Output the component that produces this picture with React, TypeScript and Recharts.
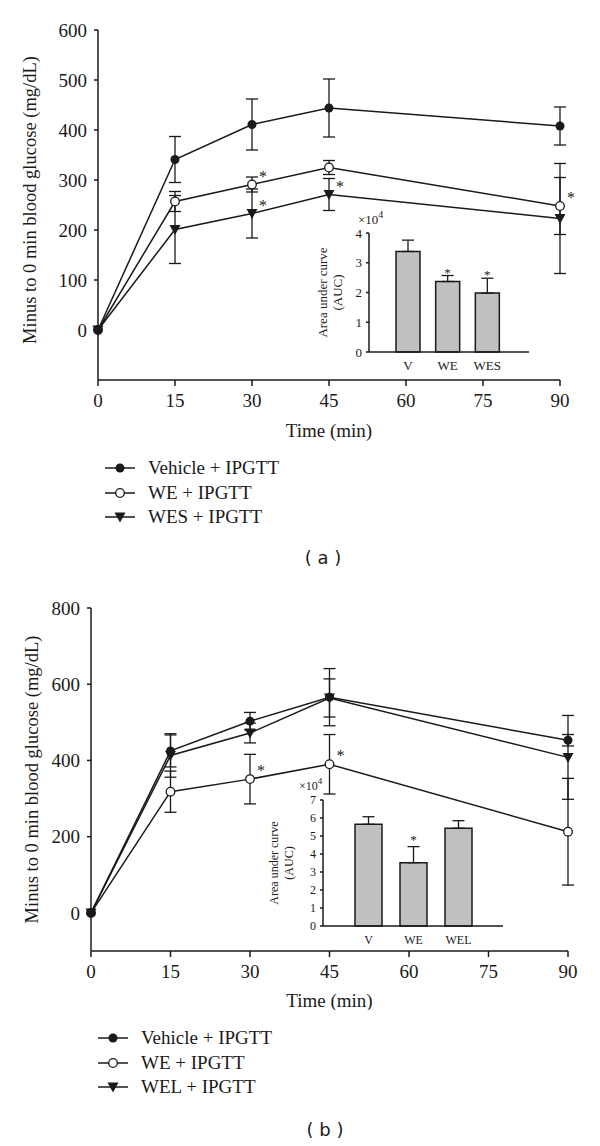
import {
  Bar,
  BarChart,
  ErrorBar,
  LabelList,
  Line,
  LineChart,
  ReferenceDot,
  XAxis,
  YAxis,
} from "recharts";

const SERIF = '"Liberation Serif", "Times New Roman", serif';
const SANS = '"DejaVu Sans", Verdana, sans-serif';
const INK = "#1a1a1a";
const BAR_FILL = "#c0c0c0";

const times = [0, 15, 30, 45, 90];
const timeTicks = [0, 15, 30, 45, 60, 75, 90];

// panel (a)
const seriesA = ["Vehicle + IPGTT", "WE + IPGTT", "WES + IPGTT"];
const vehicleA = [0, 341, 411, 444, 408];
const vehicleAErr = [0, 46, 51, 58, 38];
const weA = [0, 257, 291, 325, 248];
const weAErr = [0, 20, 15, 14, 57];
const wesA = [0, 201, 233, 271, 223];
const wesAErr = [0, 68, 49, 32, 110];
const weAStar = ["", "", "*", "", "*"];
const wesAStar = ["", "", "*", "*", ""];
const yTicksA = [0, 100, 200, 300, 400, 500, 600];

const aucCatsA = ["V", "WE", "WES"];
const aucA = [3.38, 2.37, 1.98];
const aucAErr = [0.38, 0.2, 0.5];
const aucAStar = ["", "*", "*"];
const aucTicksA = [0, 1, 2, 3, 4];

// panel (b)
const seriesB = ["Vehicle + IPGTT", "WE + IPGTT", "WEL + IPGTT"];
const vehicleB = [0, 425, 503, 566, 453];
const vehicleBErr = [0, 42, 23, 75, 15];
const weB = [0, 318, 351, 390, 213];
const weBErr = [0, 54, 65, 78, 140];
const welB = [0, 413, 472, 564, 408];
const welBErr = [0, 57, 26, 50, 110];
const weBStar = ["", "", "*", "*", ""];
const welBStar = ["", "", "", "", ""];
const yTicksB = [0, 200, 400, 600, 800];

const aucCatsB = ["V", "WE", "WEL"];
const aucB = [5.65, 3.52, 5.43];
const aucBErr = [0.42, 0.89, 0.42];
const aucBStar = ["", "*", ""];
const aucTicksB = [0, 1, 2, 3, 4, 5, 6, 7];

const buildRows = (
  veh: number[], vehErr: number[], we: number[], weErr: number[],
  third: number[], thirdErr: number[], weStar: string[], thirdStar: string[],
) =>
  times.map((t, i) => ({
    t,
    veh: veh[i], vehErr: vehErr[i],
    we: we[i], weErr: weErr[i],
    third: third[i], thirdErr: thirdErr[i],
    weStar: weStar[i], thirdStar: thirdStar[i],
  }));

const rowsA = buildRows(vehicleA, vehicleAErr, weA, weAErr, wesA, wesAErr, weAStar, wesAStar);
const rowsB = buildRows(vehicleB, vehicleBErr, weB, weBErr, welB, welBErr, weBStar, welBStar);

// markers
const filledDot = (p: any) =>
  p.cx == null ? null : <circle key={p.index} cx={p.cx} cy={p.cy} r={4.5} fill={INK} />;
const openDot = (p: any) =>
  p.cx == null ? null : (
    <circle key={p.index} cx={p.cx} cy={p.cy} r={4.3} fill="#fff" stroke={INK} strokeWidth={1.3} />
  );
const triDot = (p: any) =>
  p.cx == null ? null : (
    <path
      key={p.index}
      d={`M${p.cx - 5.5},${p.cy - 4.5}L${p.cx + 5.5},${p.cy - 4.5}L${p.cx},${p.cy + 5.5}Z`}
      fill={INK}
    />
  );

const lineStar = (p: any) => {
  if (!p.value) return null;
  const vb = p.viewBox ?? {};
  const x = vb.x ?? p.x;
  const y = vb.y ?? p.y;
  return (
    <text x={x + 11} y={y - 3} textAnchor="middle" fontSize={16} fontFamily={SERIF} fill={INK}>
      *
    </text>
  );
};

const BarStar = (p: any) => {
  const vb = p.viewBox ?? {};
  const x = (vb.x ?? 0) + (vb.width ?? 0) / 2;
  const y = vb.y ?? 0;
  return (
    <text x={x} y={y + p.lift} textAnchor="middle" fontSize={13} fontFamily={SERIF} fill={INK}>
      *
    </text>
  );
};

const XTitle = (p: any) => {
  const vb = p.viewBox;
  return (
    <text
      x={vb.x + vb.width / 2}
      y={vb.y + p.offY}
      textAnchor="middle"
      dominantBaseline="central"
      fontSize={19}
      fontFamily={SERIF}
      fill={INK}
    >
      {p.text}
    </text>
  );
};

const YTitle = (p: any) => {
  const vb = p.viewBox;
  const cx = vb.x + p.offX;
  const cy = vb.y + vb.height / 2 + (p.offY ?? 0);
  return (
    <text
      x={cx}
      y={cy}
      transform={`rotate(-90 ${cx} ${cy})`}
      textAnchor="middle"
      dominantBaseline="central"
      fontSize={18.5}
      fontFamily={SERIF}
      fill={INK}
    >
      {p.text}
    </text>
  );
};

const InsetTitle = (p: any) => {
  const vb = p.viewBox;
  const right = vb.x + vb.width;
  const cy = vb.y + vb.height / 2;
  const l1 = right + p.line1;
  const l2 = right + p.line2;
  return (
    <g fontFamily={SERIF} fill={INK}>
      <text x={right + p.expX} y={vb.y + p.expY} fontSize={p.fs}>
        ×10
        <tspan dy={-6} fontSize={p.fs - 3}>
          4
        </tspan>
      </text>
      <text x={l1} y={cy} transform={`rotate(-90 ${l1} ${cy})`} textAnchor="middle" dominantBaseline="central" fontSize={p.fs}>
        Area under curve
      </text>
      <text x={l2} y={cy} transform={`rotate(-90 ${l2} ${cy})`} textAnchor="middle" dominantBaseline="central" fontSize={p.fs}>
        (AUC)
      </text>
    </g>
  );
};

function GlucosePanel(props: {
  rows: any[];
  names: string[];
  top: number;
  height: number;
  margin: { top: number; right: number; bottom: number; left: number };
  yDomain: [number, number];
  yTicks: number[];
  titleY: number;
  yTitle: { offX: number; offY: number };
}) {
  const { rows, names, top, height, margin, yDomain, yTicks, titleY, yTitle } = props;
  const tickStyle = { fontSize: 19, fill: INK, fontFamily: SERIF };
  const axisStyle = { stroke: INK, strokeWidth: 1.5 };
  return (
    <div style={{ position: "absolute", left: 0, top, width: 600, height }}>
      <LineChart width={600} height={height} data={rows} margin={margin}>
        <XAxis
          dataKey="t"
          type="number"
          domain={[0, 90]}
          ticks={timeTicks}
          interval={0}
          height={50}
          tickSize={6}
          tickMargin={8}
          axisLine={axisStyle}
          tickLine={axisStyle}
          tick={tickStyle}
          label={<XTitle text="Time (min)" offY={titleY} />}
        />
        <YAxis
          type="number"
          domain={yDomain}
          ticks={yTicks}
          interval={0}
          width={60}
          tickSize={4}
          tickMargin={7}
          axisLine={axisStyle}
          tickLine={axisStyle}
          tick={tickStyle}
          label={<YTitle text="Minus to 0 min blood glucose (mg/dL)" {...yTitle} />}
        />
        <Line
          dataKey="third"
          name={names[2]}
          type="linear"
          stroke={INK}
          strokeWidth={1.5}
          dot={triDot}
          activeDot={false}
          isAnimationActive={false}
        >
          <ErrorBar dataKey="thirdErr" width={6} strokeWidth={1.3} stroke={INK} direction="y" isAnimationActive={false} />
          <LabelList dataKey="thirdStar" content={lineStar} />
        </Line>
        <Line
          dataKey="we"
          name={names[1]}
          type="linear"
          stroke={INK}
          strokeWidth={1.5}
          dot={openDot}
          activeDot={false}
          isAnimationActive={false}
        >
          <ErrorBar dataKey="weErr" width={6} strokeWidth={1.3} stroke={INK} direction="y" isAnimationActive={false} />
          <LabelList dataKey="weStar" content={lineStar} />
        </Line>
        <Line
          dataKey="veh"
          name={names[0]}
          type="linear"
          stroke={INK}
          strokeWidth={1.5}
          dot={filledDot}
          activeDot={false}
          isAnimationActive={false}
        >
          <ErrorBar dataKey="vehErr" width={6} strokeWidth={1.3} stroke={INK} direction="y" isAnimationActive={false} />
        </Line>
      </LineChart>
    </div>
  );
}

function AucInset(props: {
  cats: string[];
  vals: number[];
  errs: number[];
  stars: string[];
  ticks: number[];
  left: number;
  top: number;
  width: number;
  height: number;
  margin: { top: number; right: number; bottom: number; left: number };
  padding: { left: number; right: number };
  barSize: number;
  fs: number;
  starLift: number;
  title: { line1: number; line2: number; expX: number; expY: number };
}) {
  const { cats, vals, errs, stars, ticks, left, top, width, height, margin, padding, barSize, fs, starLift, title } = props;
  const rows = cats.map((c, i) => ({ name: c, auc: vals[i], err: [0, errs[i]] }));
  const axisStyle = { stroke: INK, strokeWidth: 1.5 };
  const tickStyle = { fontSize: fs, fill: INK, fontFamily: SERIF };
  return (
    <div style={{ position: "absolute", left, top, width, height }}>
      <BarChart width={width} height={height} data={rows} margin={margin}>
        <XAxis
          dataKey="name"
          type="category"
          interval={0}
          padding={padding}
          height={25}
          tickLine={false}
          tickSize={0}
          tickMargin={9}
          axisLine={axisStyle}
          tick={tickStyle}
        />
        <YAxis
          type="number"
          domain={[0, ticks[ticks.length - 1]]}
          ticks={ticks}
          interval={0}
          width={30}
          tickSize={3}
          tickMargin={4}
          axisLine={axisStyle}
          tickLine={axisStyle}
          tick={tickStyle}
          label={<InsetTitle fs={fs} {...title} />}
        />
        <Bar dataKey="auc" barSize={barSize} fill={BAR_FILL} stroke={INK} strokeWidth={1.5} isAnimationActive={false}>
          <ErrorBar dataKey="err" width={6} strokeWidth={1.3} stroke={INK} direction="y" isAnimationActive={false} />
        </Bar>
        {cats.map((c, i) =>
          stars[i] ? (
            <ReferenceDot
              key={c}
              x={c}
              y={vals[i] + errs[i]}
              r={0}
              fill="none"
              stroke="none"
              label={<BarStar lift={starLift} />}
            />
          ) : null,
        )}
      </BarChart>
    </div>
  );
}

function SeriesKey({ names, top, left, gap }: { names: string[]; top: number; left: number; gap: number }) {
  const marks = [
    <circle cx={15} cy={10} r={4.5} fill={INK} />,
    <circle cx={15} cy={10} r={4.3} fill="#fff" stroke={INK} strokeWidth={1.3} />,
    <path d="M9.5,5.5L20.5,5.5L15,15.5Z" fill={INK} />,
  ];
  return (
    <div style={{ position: "absolute", left, top }}>
      {names.map((n, i) => (
        <div key={n} style={{ position: "absolute", left: 0, top: i * gap - 10, height: 20, whiteSpace: "nowrap" }}>
          <svg width={30} height={20} style={{ position: "absolute", left: 0, top: 0 }}>
            <line x1={0} y1={10} x2={30} y2={10} stroke={INK} strokeWidth={1.5} />
            {marks[i]}
          </svg>
          <span
            style={{
              position: "absolute",
              left: 43,
              top: 0,
              lineHeight: "20px",
              fontSize: 19,
              fontFamily: SERIF,
              color: INK,
            }}
          >
            {n}
          </span>
        </div>
      ))}
    </div>
  );
}

const PanelTag = ({ text, x, y }: { text: string; x: number; y: number }) => (
  <div
    style={{
      position: "absolute",
      left: x - 40,
      top: y - 12,
      width: 80,
      lineHeight: "24px",
      textAlign: "center",
      fontSize: 18,
      fontFamily: SANS,
      color: INK,
      whiteSpace: "pre",
    }}
  >
    {text}
  </div>
);

export default function App() {
  return (
    <div style={{ position: "absolute", left: 0, top: 0, width: 600, height: 1146, background: "#fff" }}>
      <GlucosePanel
        rows={rowsA}
        names={seriesA}
        top={0}
        height={450}
        margin={{ top: 30, right: 40, bottom: 20, left: 38 }}
        yDomain={[-100, 600]}
        yTicks={yTicksA}
        titleY={50}
        yTitle={{ offX: -8, offY: -5 }}
      />
      <AucInset
        cats={aucCatsA}
        vals={aucA}
        errs={aucAErr}
        stars={aucAStar}
        ticks={aucTicksA}
        left={300}
        top={200}
        width={240}
        height={185}
        margin={{ top: 33, right: 11, bottom: 8, left: 39 }}
        padding={{ left: 19, right: 22 }}
        barSize={24}
        fs={13}
        starLift={1}
        title={{ line1: -47, line2: -32, expX: -11, expY: -9 }}
      />
      <SeriesKey names={seriesA} left={105} top={468} gap={24.5} />
      <PanelTag text="( a )" x={323} y={558} />

      <GlucosePanel
        rows={rowsB}
        names={seriesB}
        top={570}
        height={440}
        margin={{ top: 38, right: 32, bottom: 9, left: 31 }}
        yDomain={[-100, 800]}
        yTicks={yTicksB}
        titleY={49}
        yTitle={{ offX: 1, offY: 0 }}
      />
      <AucInset
        cats={aucCatsB}
        vals={aucB}
        errs={aucBErr}
        stars={aucBStar}
        ticks={aucTicksB}
        left={250}
        top={765}
        width={270}
        height={190}
        margin={{ top: 35, right: 17, bottom: 4, left: 43 }}
        padding={{ left: 23, right: 22 }}
        barSize={27}
        fs={12}
        starLift={-3}
        title={{ line1: -49, line2: -34, expX: -24, expY: -10 }}
      />
      <SeriesKey names={seriesB} left={98} top={1038} gap={24.5} />
      <PanelTag text="( b )" x={325} y={1130} />
    </div>
  );
}
